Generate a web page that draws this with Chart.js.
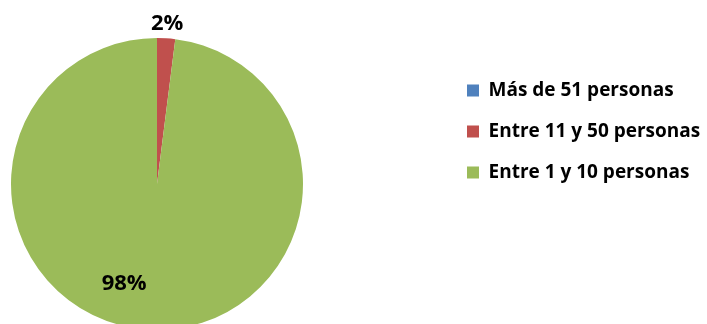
<!DOCTYPE html>
<html lang="es">
<head>
  <meta charset="UTF-8">
  <title>Tamaño de empresa</title>
  <script src="https://cdn.jsdelivr.net/npm/chart.js"></script>
  <style>
    html, body { margin: 0; padding: 0; overflow: hidden; background: #fff; }
    /* canvas runs past the left edge so the pie can sit close to it */
    #wrap { position: relative; width: 838px; height: 330px; margin-left: -131px; }
  </style>
</head>
<body>
  <div id="wrap"><canvas id="pieChart"></canvas></div>

  <script>
    // data
    const categories = ['Más de 51 personas', 'Entre 11 y 50 personas', 'Entre 1 y 10 personas'];
    const percentages = [0, 2, 98];
    const sliceColors = ['#4F81BD', '#C0504D', '#9BBB59'];

    const fontFamily = '"Open Sans", "Liberation Sans", sans-serif';
    const legendFontSize = 19;
    const labelFontSize = 22;
    const boxSize = 12;
    const canvasWidth = 838;
    const legendBoxX = 598; // where the legend swatches start (canvas coords)

    // work out right padding so the legend column starts at legendBoxX
    const meas = document.createElement('canvas').getContext('2d');
    meas.font = 'bold ' + legendFontSize + 'px ' + fontFamily;
    const longest = Math.max(...categories.map(c => meas.measureText(c).width));
    const colWidth = boxSize + legendFontSize / 2 + longest;
    const padRight = canvasWidth - 10 - colWidth - legendBoxX;

    // percentage labels: small slices outside, big slice inside and turned a bit
    const labelPlacement = [
      { radius: 1.1, shift: 0 },
      { radius: 1.1, shift: 0 },
      { radius: 0.72, shift: 14.6 }
    ];

    const pctLabels = {
      id: 'pctLabels',
      afterDatasetsDraw(chart) {
        const ctx = chart.ctx;
        const meta = chart.getDatasetMeta(0);
        ctx.save();
        ctx.font = 'bold ' + labelFontSize + 'px ' + fontFamily;
        ctx.fillStyle = '#000';
        ctx.textAlign = 'center';
        ctx.textBaseline = 'middle';
        meta.data.forEach((arc, i) => {
          const v = percentages[i];
          if (!v) return;
          const p = labelPlacement[i];
          const a = (arc.startAngle + arc.endAngle) / 2 + p.shift * Math.PI / 180;
          const d = arc.outerRadius * p.radius;
          ctx.fillText(Math.round(v) + '%', arc.x + Math.cos(a) * d, arc.y + Math.sin(a) * d);
        });
        ctx.restore();
      }
    };

    const ctx = document.getElementById('pieChart').getContext('2d');
    const chart = new Chart(ctx, {
      type: 'pie',
      data: {
        labels: categories,
        datasets: [{
          data: percentages,
          backgroundColor: sliceColors,
          borderWidth: 0
        }]
      },
      options: {
        responsive: true,
        maintainAspectRatio: false,
        animation: false,
        layout: {
          padding: { left: 0, right: padRight, top: 38, bottom: 0 }
        },
        plugins: {
          legend: {
            position: 'right',
            align: 'start',
            title: {
              display: true,
              text: '',
              font: { size: 10, lineHeight: 1 },
              padding: { top: 11, bottom: 0 }
            },
            labels: {
              boxWidth: boxSize,
              boxHeight: boxSize,
              padding: 41 - legendFontSize,
              color: '#000',
              font: { family: fontFamily, size: legendFontSize, weight: 'bold' }
            }
          },
          tooltip: { enabled: false }
        }
      },
      plugins: [pctLabels]
    });
  </script>
</body>
</html>
